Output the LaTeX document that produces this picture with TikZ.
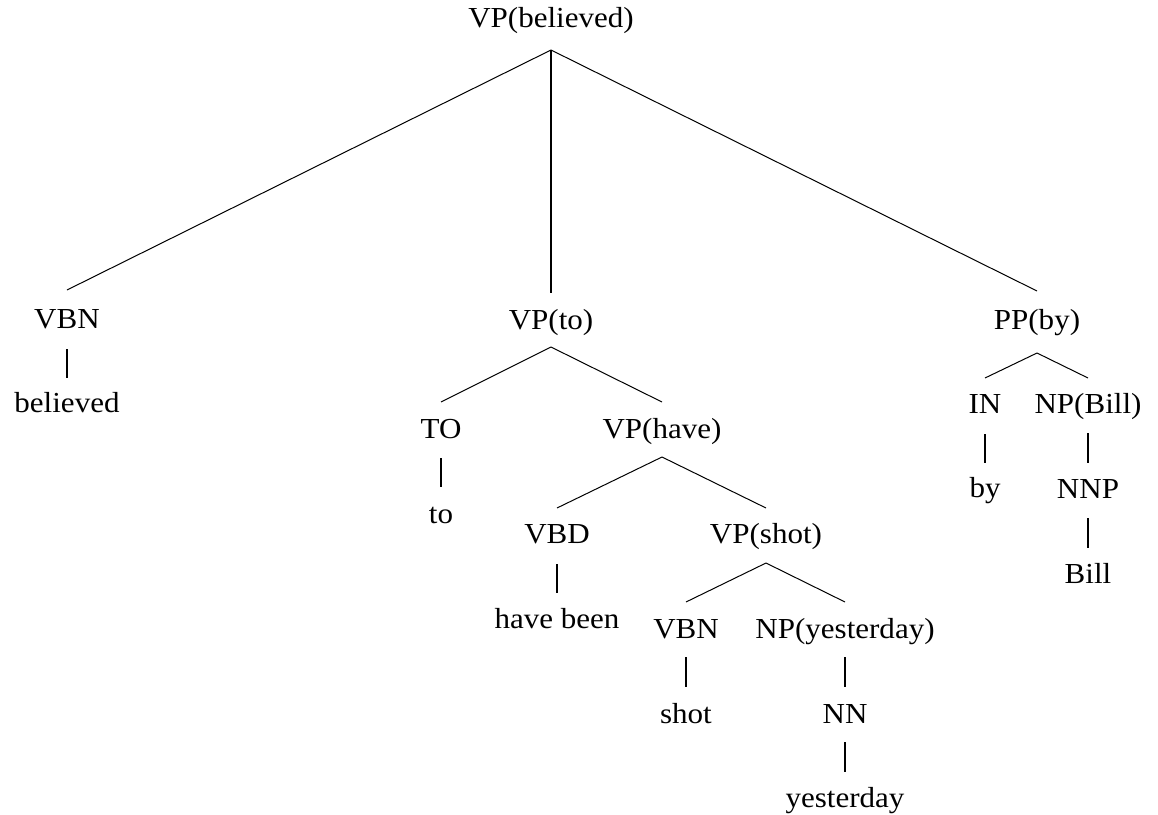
\documentclass[tikz,border=0pt]{standalone}
\usepackage{fontspec}
\setmainfont{Liberation Serif}[FakeStretch=1.07]
\begin{document}
\begin{tikzpicture}[x=1pt,y=-1pt,
  lbl/.style={anchor=base,inner sep=0pt,font=\fontsize{29}{34}\selectfont},
  branch/.style={line width=1pt},
  unary/.style={line width=2.4pt}]
\useasboundingbox (0,0) rectangle (1158,814);

% labels (positioned by their baselines)
\node[lbl] (root)   at (551,27)  {VP(believed)};
\node[lbl] (vbna)   at (67,328)  {VBN};
\node[lbl] (believed) at (67,412) {believed};
\node[lbl] (vpto)   at (551,329) {VP(to)};
\node[lbl] (ppby)   at (1037,329) {PP(by)};
\node[lbl] (to)     at (441,438) {TO};
\node[lbl] (tow)    at (441,523) {to};
\node[lbl] (vphave) at (662,438) {VP(have)};
\node[lbl] (vbd)    at (557,543) {VBD};
\node[lbl] (havebeen) at (557,628) {have been};
\node[lbl] (vpshot) at (766,543) {VP(shot)};
\node[lbl] (vbnb)   at (686,638) {VBN};
\node[lbl] (shot)   at (686,723) {shot};
\node[lbl] (npy)    at (845,638) {NP(yesterday)};
\node[lbl] (nn)     at (845,723) {NN};
\node[lbl] (yesterday) at (845,807) {yesterday};
\node[lbl] (in)     at (985,413) {IN};
\node[lbl] (by)     at (985,497) {by};
\node[lbl] (npbill) at (1088,413) {NP(Bill)};
\node[lbl] (nnp)    at (1088,498) {NNP};
\node[lbl] (bill)   at (1088,583) {Bill};

% root
\draw[branch] ([yshift=-23pt]root.base) -- ([yshift=38pt]vbna.base);
\draw[unary]  ([yshift=-23pt]root.base) -- ([yshift=36pt]vpto.base);
\draw[branch] ([yshift=-23pt]root.base) -- ([yshift=38pt]ppby.base);
% VBN believed
\draw[unary] ([yshift=-21pt]vbna.base) -- ([yshift=34pt]believed.base);
% VP(to)
\draw[branch] ([yshift=-18pt]vpto.base) -- ([yshift=36pt]to.base);
\draw[branch] ([yshift=-18pt]vpto.base) -- ([yshift=36pt]vphave.base);
\draw[unary] ([yshift=-20pt]to.base) -- ([yshift=36pt]tow.base);
% VP(have)
\draw[branch] ([yshift=-19pt]vphave.base) -- ([yshift=35pt]vbd.base);
\draw[branch] ([yshift=-19pt]vphave.base) -- ([yshift=35pt]vpshot.base);
\draw[unary] ([yshift=-21pt]vbd.base) -- ([yshift=35pt]havebeen.base);
% VP(shot)
\draw[branch] ([yshift=-20pt]vpshot.base) -- ([yshift=36pt]vbnb.base);
\draw[branch] ([yshift=-20pt]vpshot.base) -- ([yshift=36pt]npy.base);
\draw[unary] ([yshift=-19pt]vbnb.base) -- ([yshift=36pt]shot.base);
\draw[unary] ([yshift=-19pt]npy.base) -- ([yshift=36pt]nn.base);
\draw[unary] ([yshift=-19pt]nn.base) -- ([yshift=35pt]yesterday.base);
% PP(by)
\draw[branch] ([yshift=-24pt]ppby.base) -- ([yshift=35pt]in.base);
\draw[branch] ([yshift=-24pt]ppby.base) -- ([yshift=35pt]npbill.base);
\draw[unary] ([yshift=-21pt]in.base) -- ([yshift=34pt]by.base);
\draw[unary] ([yshift=-20pt]npbill.base) -- ([yshift=35pt]nnp.base);
\draw[unary] ([yshift=-20pt]nnp.base) -- ([yshift=35pt]bill.base);
\end{tikzpicture}
\end{document}
